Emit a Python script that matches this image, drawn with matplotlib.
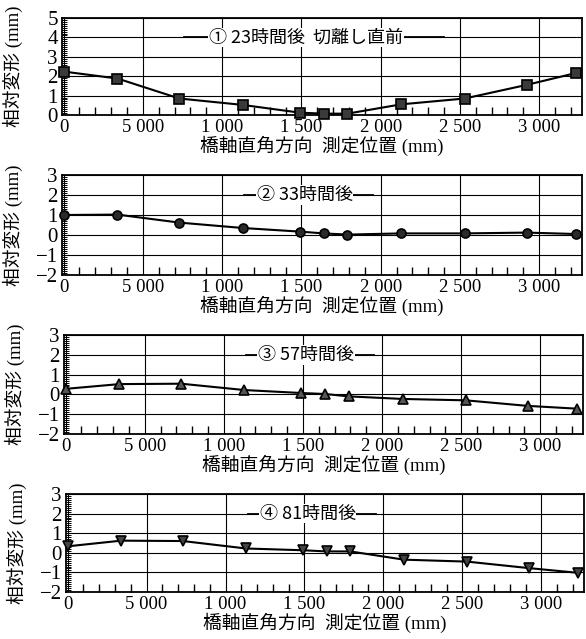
import matplotlib
matplotlib.use("Agg")
import matplotlib.pyplot as plt
from matplotlib.ticker import MultipleLocator, FixedLocator

plt.rcParams['font.family'] = ['Liberation Serif', 'Noto Sans CJK JP']
plt.rcParams['axes.unicode_minus'] = True

# measuring positions (mm), same for every stage
positions = [0, 340, 730, 1130, 1490, 1640, 1790, 2130, 2530, 2920, 3230]

# relative deformation (mm) at each stage
stage1 = [2.24, 1.88, 0.85, 0.52, 0.12, 0.07, 0.07, 0.55, 0.85, 1.55, 2.16]
stage2 = [1.00, 1.02, 0.62, 0.35, 0.17, 0.08, 0.02, 0.08, 0.08, 0.12, 0.05]
stage3 = [0.28, 0.52, 0.54, 0.22, 0.07, 0.02, -0.10, -0.23, -0.30, -0.58, -0.72]
stage4 = [0.33, 0.62, 0.60, 0.22, 0.13, 0.07, 0.07, -0.35, -0.45, -0.78, -1.02]

stage_labels = ["① 23時間後  切離し直前", "② 33時間後", "③ 57時間後", "④ 81時間後"]
x_tick_vals = [0, 500, 1000, 1500, 2000, 2500, 3000]
x_tick_text = ["0", "5 000", "1 000", "1 500", "2 000", "2 500", "3 000"]

series = [stage1, stage2, stage3, stage4]
markers = ["s", "o", "^", "v"]
facecols = ["#3a3a3a", "#2a2a2a", "#555555", "#444444"]
msizes = [6.5, 6.5, 7.5, 7.5]
ylims = [(0, 5), (-2, 3), (-2, 3), (-2, 3)]
label_y = [4, 2, 2, 2]
label_x = [1530, 1520, 1520, 1520]
label_span = [(760, 2400), (1140, 1950), (1140, 1950), (1140, 1950)]

# axes boxes in pixels: left, top, right, bottom
W, H = 586, 639
boxes = [(62, 18, 582, 115), (62, 175, 582, 275), (64, 335, 583, 434), (66, 494, 584, 592)]

fig = plt.figure(figsize=(W / 100, H / 100), dpi=100)

for i in range(4):
    l, t, r, b = boxes[i]
    ax = fig.add_axes([l / W, 1 - b / H, (r - l) / W, (b - t) / H])
    ax.set_xlim(-10, 3270)
    ax.set_ylim(*ylims[i])

    ax.xaxis.set_major_locator(FixedLocator(x_tick_vals))
    ax.set_xticks(x_tick_vals)
    ax.set_xticklabels(x_tick_text)
    ax.xaxis.set_minor_locator(MultipleLocator(100))
    ax.yaxis.set_major_locator(MultipleLocator(1))
    ax.yaxis.set_minor_locator(MultipleLocator(0.1))

    ax.tick_params(axis='x', which='major', length=0, labelsize=13.5, pad=3)
    ax.tick_params(axis='y', which='major', length=0, labelsize=15, pad=3)
    ax.tick_params(axis='x', which='minor', direction='in', length=6, width=1.0,
                   bottom=True, top=False)
    ax.tick_params(axis='y', which='minor', direction='in', length=3.5, width=0.7,
                   left=True, right=False)

    ax.grid(True, which='major', color='black', linewidth=0.8)
    for sp in ax.spines.values():
        sp.set_linewidth(1.3)

    # stage label sitting on a grid line
    ax.plot(label_span[i], [label_y[i], label_y[i]], color='black', lw=1.3, zorder=3)
    ax.text(label_x[i], label_y[i], stage_labels[i], ha='center', va='center',
            fontsize=13, family=['Noto Sans CJK JP'], zorder=4,
            bbox=dict(facecolor='white', edgecolor='none', pad=0.5))

    ax.plot(positions, series[i], color='black', lw=1.5, marker=markers[i],
            markersize=msizes[i], markerfacecolor=facecols[i],
            markeredgecolor='black', markeredgewidth=1.2, zorder=5, clip_on=False)

    ax.set_xlabel("橋軸直角方向  測定位置 (mm)", fontsize=13.5, labelpad=0)
    ax.set_ylabel("相対変形 (mm)", fontsize=13.5, labelpad=2)
    ax.yaxis.set_label_coords(-0.075, 0.5)

fig.savefig("out.png", dpi=100)
